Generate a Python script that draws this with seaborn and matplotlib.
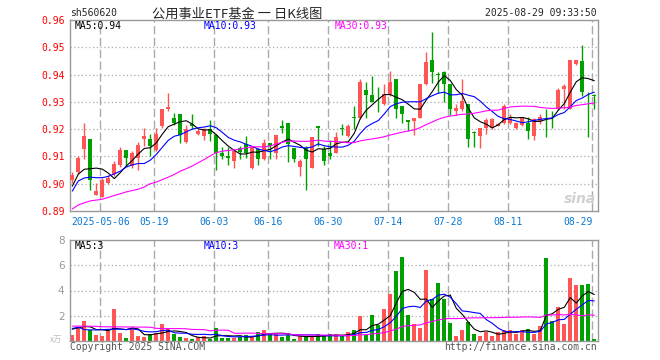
import numpy as np
import pandas as pd
import seaborn as sns
import matplotlib.pyplot as plt

# daily K-line, 88 trading days (index 0 = first candle on the chart)
open_ = [0.9014, 0.9043, 0.9127, 0.9164, 0.8960, 0.8952, 0.9004, 0.9035, 0.9068, 0.9125,
         0.9065, 0.9094, 0.9164, 0.9164, 0.9125, 0.9213, 0.9272, 0.9241, 0.9254, 0.9152,
         0.9220, 0.9184, 0.9174, 0.9201, 0.9180, 0.9111, 0.9101, 0.9083, 0.9130, 0.9144,
         0.9059, 0.9126, 0.9091, 0.9150, 0.9111, 0.9213, 0.9221, 0.9132, 0.9062, 0.9132,
         0.9059, 0.9213, 0.9128, 0.9111, 0.9113, 0.9204, 0.9175, 0.9243, 0.9242, 0.9343,
         0.9326, 0.9312, 0.9291, 0.9328, 0.9383, 0.9283, 0.9234, 0.9230, 0.9242, 0.9365,
         0.9453, 0.9403, 0.9408, 0.9365, 0.9267, 0.9273, 0.9291, 0.9189, 0.9175, 0.9204,
         0.9205, 0.9212, 0.9221, 0.9224, 0.9206, 0.9216, 0.9222, 0.9176, 0.9231, 0.9264,
         0.9263, 0.9274, 0.9347, 0.9274, 0.9440, 0.9448, 0.9330, 0.9326]
high = [0.9043, 0.9102, 0.9223, 0.9164, 0.9001, 0.9022, 0.9032, 0.9084, 0.9133, 0.9125,
        0.9121, 0.9152, 0.9205, 0.9183, 0.9205, 0.9274, 0.9333, 0.9260, 0.9256, 0.9217,
        0.9254, 0.9199, 0.9205, 0.9232, 0.9180, 0.9135, 0.9135, 0.9126, 0.9140, 0.9174,
        0.9140, 0.9132, 0.9165, 0.9150, 0.9180, 0.9232, 0.9221, 0.9132, 0.9091, 0.9140,
        0.9172, 0.9213, 0.9140, 0.9162, 0.9190, 0.9218, 0.9218, 0.9283, 0.9383, 0.9371,
        0.9396, 0.9353, 0.9365, 0.9414, 0.9383, 0.9283, 0.9234, 0.9242, 0.9367, 0.9482,
        0.9555, 0.9410, 0.9414, 0.9365, 0.9291, 0.9383, 0.9291, 0.9193, 0.9203, 0.9242,
        0.9240, 0.9222, 0.9291, 0.9255, 0.9228, 0.9246, 0.9243, 0.9241, 0.9256, 0.9275,
        0.9268, 0.9349, 0.9365, 0.9455, 0.9455, 0.9507, 0.9335, 0.9329]
low = [0.9001, 0.9035, 0.9090, 0.8977, 0.8957, 0.8952, 0.9000, 0.9028, 0.9063, 0.9065,
       0.9057, 0.9051, 0.9137, 0.9100, 0.9119, 0.9205, 0.9266, 0.9217, 0.9150, 0.9150,
       0.9199, 0.9177, 0.9159, 0.9156, 0.9052, 0.9089, 0.9067, 0.9059, 0.9090, 0.9093,
       0.9055, 0.9067, 0.9087, 0.9091, 0.9089, 0.9187, 0.9079, 0.9079, 0.9028, 0.8977,
       0.9059, 0.9140, 0.9067, 0.9091, 0.9111, 0.9177, 0.9172, 0.9200, 0.9239, 0.9242,
       0.9298, 0.9261, 0.9288, 0.9322, 0.9242, 0.9224, 0.9193, 0.9180, 0.9242, 0.9362,
       0.9369, 0.9334, 0.9300, 0.9251, 0.9251, 0.9267, 0.9136, 0.9133, 0.9130, 0.9181,
       0.9200, 0.9210, 0.9218, 0.9218, 0.9200, 0.9212, 0.9163, 0.9161, 0.9220, 0.9172,
       0.9203, 0.9271, 0.9272, 0.9272, 0.9435, 0.9322, 0.9173, 0.9274]
close = [0.9031, 0.9094, 0.9174, 0.9014, 0.8973, 0.9012, 0.9022, 0.9072, 0.9125, 0.9094,
         0.9112, 0.9142, 0.9174, 0.9137, 0.9183, 0.9272, 0.9280, 0.9221, 0.9180, 0.9201,
         0.9211, 0.9193, 0.9199, 0.9184, 0.9111, 0.9101, 0.9094, 0.9120, 0.9118, 0.9113,
         0.9135, 0.9091, 0.9150, 0.9140, 0.9180, 0.9204, 0.9144, 0.9091, 0.9083, 0.9091,
         0.9172, 0.9204, 0.9083, 0.9101, 0.9172, 0.9200, 0.9212, 0.9240, 0.9371, 0.9325,
         0.9300, 0.9310, 0.9328, 0.9371, 0.9275, 0.9255, 0.9228, 0.9242, 0.9365, 0.9445,
         0.9408, 0.9400, 0.9365, 0.9273, 0.9279, 0.9304, 0.9163, 0.9187, 0.9203, 0.9234,
         0.9236, 0.9220, 0.9285, 0.9242, 0.9224, 0.9243, 0.9195, 0.9238, 0.9243, 0.9261,
         0.9261, 0.9344, 0.9359, 0.9453, 0.9452, 0.9335, 0.9327, 0.9321]
# volume in 万手
volume = [0.45, 1.12, 1.60, 0.91, 0.45, 0.37, 0.78, 2.54, 0.61, 0.21,
          1.04, 0.37, 0.29, 0.53, 0.64, 1.34, 0.96, 0.53, 0.29, 0.21,
          0.13, 0.29, 0.37, 0.19, 1.04, 0.24, 0.24, 0.27, 0.32, 0.45,
          0.32, 0.70, 0.88, 0.59, 0.59, 0.32, 0.51, 0.16, 0.37, 0.37,
          0.37, 0.53, 0.37, 0.53, 0.52, 0.36, 0.71, 0.90, 1.98, 0.51,
          2.03, 1.23, 2.54, 3.74, 5.51, 6.63, 2.03, 1.34, 1.00, 5.60,
          3.32, 4.56, 3.32, 1.39, 0.36, 0.90, 1.52, 0.52, 0.36, 0.71,
          0.36, 0.71, 0.90, 0.90, 0.52, 0.90, 0.98, 0.52, 1.17, 6.55,
          1.57, 2.73, 1.33, 4.98, 4.40, 4.40, 4.48, 0.15]

# moving averages at the left edge depend on earlier days ->
ma5_head = [0.8991, 0.9035, 0.9053, 0.9055]
ma10_head = [0.8973, 0.9010, 0.9021, 0.9024, 0.9022, 0.9022, 0.9027, 0.9036, 0.9046]
ma30_head = [0.8907, 0.8922, 0.8930, 0.8937, 0.8940, 0.8943, 0.8950, 0.8957, 0.8963, 0.8970,
             0.8975, 0.8980, 0.8988, 0.9000, 0.9006, 0.9015, 0.9024, 0.9034, 0.9046, 0.9055,
             0.9065, 0.9077, 0.9089, 0.9102, 0.9114, 0.9119, 0.9122, 0.9124, 0.9127]
vma5_head = [0.94, 1.04, 1.15, 1.12]
vma10_head = [0.99, 1.10, 0.90, 0.88, 0.88, 0.90, 0.92, 0.94, 0.94]
vma30_head = [1.18, 1.18, 1.17, 1.17, 1.16, 1.13, 1.12, 1.12, 1.12, 1.11,
              1.11, 1.10, 1.10, 1.09, 1.00, 0.99, 0.99, 0.98, 0.98, 0.97,
              0.91, 0.91, 0.90, 0.80, 0.86, 0.86, 0.85, 0.62, 0.61]

date_pos = [5, 14, 24, 33, 43, 53, 63, 73, 87]
date_labels = ['2025-05-06', '05-19', '06-03', '06-16', '06-30', '07-14', '07-28', '08-11', '08-29']
price_ticks = [0.89, 0.90, 0.91, 0.92, 0.93, 0.94, 0.95, 0.96]
vol_ticks = [2, 4, 6, 8]

RED = '#ff5555'
GREEN = '#00a000'
GRID = '#aaaaaa'


def moving_avg(values, n, head):
    s = pd.Series(values).rolling(n).mean()
    s.iloc[:n - 1] = head
    return s


df = pd.DataFrame({'o': open_, 'h': high, 'l': low, 'c': close, 'v': volume})
df['i'] = np.arange(len(df))
colors = np.where(df.c >= df.o, RED, GREEN)
df['ma5'] = moving_avg(df.c, 5, ma5_head)
df['ma10'] = moving_avg(df.c, 10, ma10_head)
df['ma30'] = moving_avg(df.c, 30, ma30_head)
df['vma5'] = moving_avg(df.v, 5, vma5_head)
df['vma10'] = moving_avg(df.v, 10, vma10_head)
df['vma30'] = moving_avg(df.v, 30, vma30_head)

sns.set_style('white')
plt.rcParams['font.family'] = ['DejaVu Sans Mono', 'Noto Sans CJK SC']

fig = plt.figure(figsize=(6.6, 3.6), dpi=100)
W, H = 660, 360
ax1 = fig.add_axes([70 / W, 1 - 211 / H, 528 / W, 191 / H])
ax2 = fig.add_axes([70 / W, 1 - 341 / H, 528 / W, 101 / H])
xlim = (-0.383, 87.62)

# --- price panel ---
for y in price_ticks[1:-1]:
    ax1.axhline(y, color=GRID, lw=0.9, ls=(0, (1, 2)), zorder=0)
for p in date_pos:
    ax1.axvline(p - 0.33, color=GRID, lw=1, dashes=(6, 2.5), zorder=0)
    ax2.axvline(p - 0.33, color=GRID, lw=1, dashes=(6, 2.5), zorder=0)

ax1.vlines(df.i, df.l, df.h, colors=colors, lw=1, zorder=2)
body = (df.c - df.o).abs().clip(lower=0.00012)
ax1.bar(df.i, body, bottom=df[['o', 'c']].min(axis=1), width=0.72, color=colors, lw=0, zorder=3)

sns.lineplot(data=df, x='i', y='ma5', ax=ax1, color='black', lw=0.8, zorder=4)
sns.lineplot(data=df, x='i', y='ma10', ax=ax1, color='#0000ff', lw=0.8, zorder=4)
sns.lineplot(data=df, x='i', y='ma30', ax=ax1, color='#ff00ff', lw=0.8, zorder=4)

ax1.set_xlim(xlim)
ax1.set_ylim(0.89, 0.96)
ax1.set_yticks(price_ticks)
ax1.set_yticklabels([f'{t:.2f}' for t in price_ticks], color='red', fontsize=7)
ax1.set_xticks([p - 0.33 for p in date_pos])
ax1.set_xticklabels(date_labels, color='#0a78d2', fontsize=7)
ax1.get_xticklabels()[-1].set_ha('right')
ax1.tick_params(length=0, pad=4)
ax1.set_xlabel('')
ax1.set_ylabel('')

# --- volume panel ---
for y in vol_ticks[:-1]:
    ax2.axhline(y, color=GRID, lw=0.9, ls=(0, (1, 2)), zorder=0)
ax2.bar(df.i, df.v, width=0.72, color=colors, lw=0, zorder=2)
sns.lineplot(data=df, x='i', y='vma5', ax=ax2, color='black', lw=0.8, zorder=4)
sns.lineplot(data=df, x='i', y='vma10', ax=ax2, color='#0000ff', lw=0.8, zorder=4)
sns.lineplot(data=df, x='i', y='vma30', ax=ax2, color='#ff00ff', lw=0.8, zorder=4)
ax2.set_xlim(xlim)
ax2.set_ylim(0, 8)
ax2.set_yticks(vol_ticks)
ax2.set_yticklabels([str(t) for t in vol_ticks], color='#999999', fontsize=7.5,
                    family='DejaVu Sans')
ax2.set_xticks([])
ax2.tick_params(length=0, pad=4)
ax2.set_xlabel('')
ax2.set_ylabel('')

for ax in (ax1, ax2):
    for s in ax.spines.values():
        s.set_color('#999999')
        s.set_linewidth(1)


def ftext(x, y, s, **kw):
    fig.text(x / W, 1 - y / H, s, va='center', **kw)


ftext(70, 13, 'sh560620', fontsize=7)
ftext(237, 14, '公用事业ETF基金 一 日K线图', ha='center', fontsize=9.5,
      family=['Noto Sans CJK SC', 'DejaVu Sans'])
ftext(597, 13, '2025-08-29 09:33:50', ha='right', fontsize=7)
ftext(75, 26, 'MA5:0.94', fontsize=7, color='black')
ftext(204, 26, 'MA10:0.93', fontsize=7, color='#0000ff')
ftext(335, 26, 'MA30:0.93', fontsize=7, color='#ff00ff')
ftext(75, 246, 'MA5:3', fontsize=7, color='black')
ftext(204, 246, 'MA10:3', fontsize=7, color='#0000ff')
ftext(334, 246, 'MA30:1', fontsize=7, color='#ff00ff')
ftext(70, 347, 'Copyright 2025 SINA.COM', fontsize=7, color='#555555')
ftext(597, 347, 'http://finance.sina.com.cn', ha='right', fontsize=7, color='#555555')
ftext(56, 339, 'x万', fontsize=6, color='#bbbbbb', ha='center',
      family=['Noto Sans CJK SC', 'DejaVu Sans'])
ftext(580, 199, 'sina', fontsize=10, color='#d0d0d0', ha='center',
      family='DejaVu Sans', weight='bold', style='italic')

fig.savefig('out.png', dpi=100)
